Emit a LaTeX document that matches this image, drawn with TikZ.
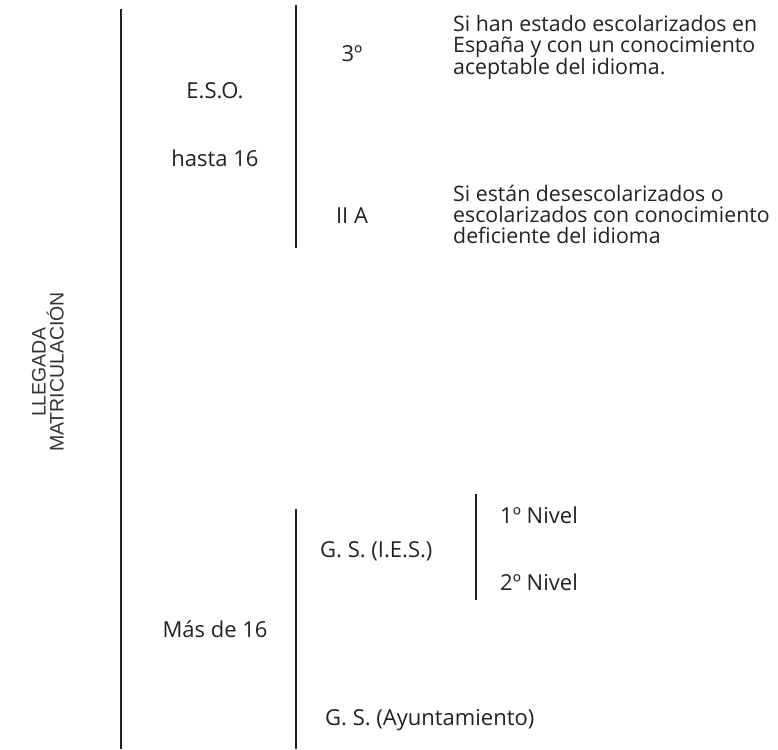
\documentclass[tikz,border=0pt]{standalone}
\usepackage{fontspec}
\setmainfont{Open Sans}
\newfontfamily\arialfont{Liberation Sans}
\definecolor{ink}{HTML}{222222}
\definecolor{side}{HTML}{333333}
\begin{document}
\begin{tikzpicture}[x=1pt,y=-1pt,
  lbl/.style={inner sep=0pt,text=ink,anchor=base,font=\fontsize{22}{24}\selectfont},
  lblw/.style={lbl,anchor=base west},
  para/.style={inner sep=0pt,text=ink,align=left,anchor=north west,font=\fontsize{21.3}{21}\selectfont},
  bar/.style={draw=ink,line width=1.6pt}]
\useasboundingbox (0,0) rectangle (778,749);
% vertical bars
\coordinate (m1) at (121,9);   \coordinate (m2) at (121,749);
\coordinate (e1) at (296,5);   \coordinate (e2) at (296,248);
\coordinate (g1) at (296,509); \coordinate (g2) at (296,749);
\coordinate (n1) at (476,494); \coordinate (n2) at (476,600);
\draw[bar] (m1) -- (m2);
\draw[bar] (e1) -- (e2);
\draw[bar] (g1) -- (g2);
\draw[bar] (n1) -- (n2);
% side label
\node[inner sep=0pt,rotate=90,align=center,text=side,font=\arialfont\fontsize{19.5}{18}\selectfont] (side) at (48,372) {LLEGADA\\MATRICULACIÓN};
% labels
\node[lbl] (eso) at (215,99) {E.S.O.};
\node[lbl] (h16) at (215,166) {hasta 16};
\node[lbl] (t3) at (352,62) {3º};
\node[lbl] (iia) at (352,223) {II A};
\node[para] (p1) at (453,15) {Si han estado escolarizados en\\España y con un conocimiento\\aceptable del idioma.};
\node[para] (p2) at (453,185) {Si están desescolarizados o\\escolarizados con conocimiento\\deficiente del idioma};
\node[lblw] (gsies) at (320,557) {G. S. (I.E.S.)};
\node[lblw] (n1l) at (500,523) {1º Nivel};
\node[lblw] (n2l) at (500,590) {2º Nivel};
\node[lbl] (m16) at (215,637) {Más de 16};
\node[lblw] (gsay) at (325,725) {G. S. (Ayuntamiento)};
\end{tikzpicture}
\end{document}
